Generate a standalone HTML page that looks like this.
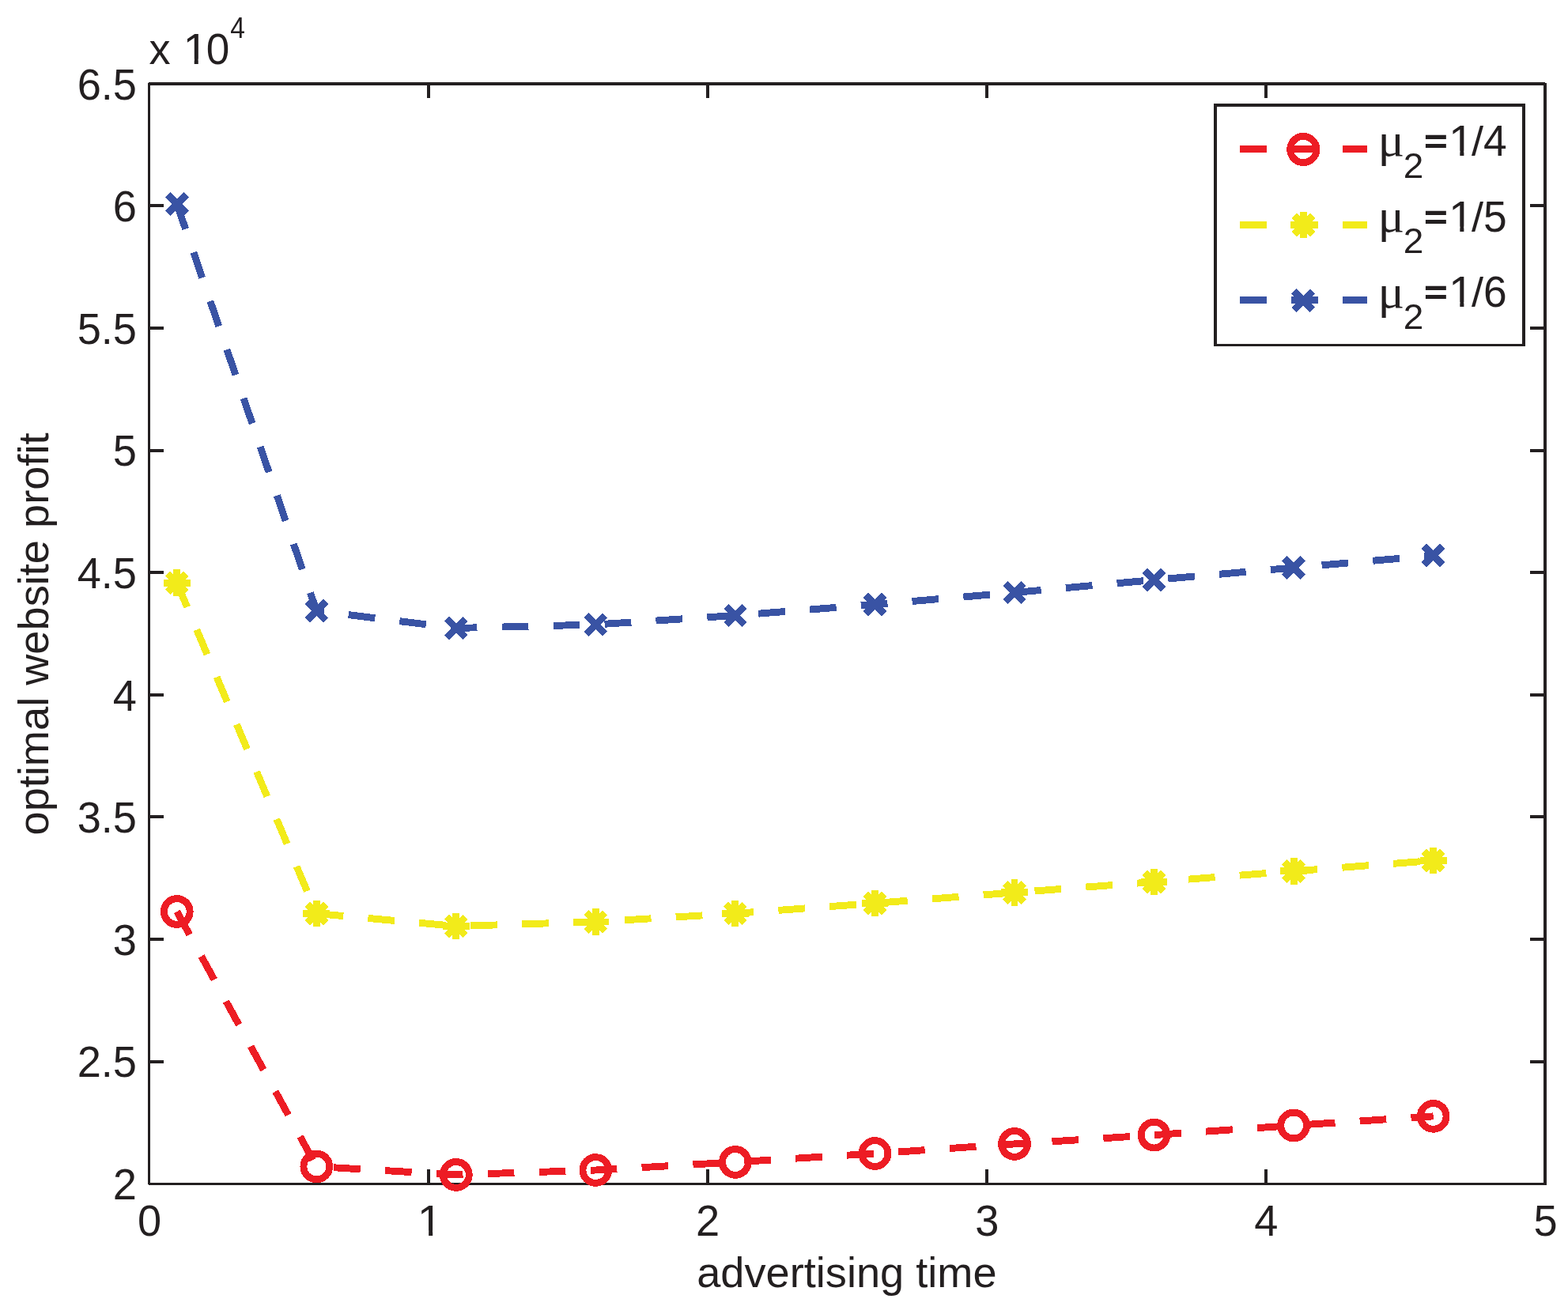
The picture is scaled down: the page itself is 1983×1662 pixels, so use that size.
<!DOCTYPE html>
<html lang="en"><head><meta charset="utf-8"><title>optimal website profit vs advertising time</title>
<style>
html,body{margin:0;padding:0;background:#fff;}
body{width:1983px;height:1662px;overflow:hidden;}
svg{display:block;}
text{font-family:"Liberation Sans",Arial,Helvetica,sans-serif;fill:#231F20;font-size:54.2px;}
text.gr{font-family:"Liberation Serif","Liberation Sans",serif;}
.ax{fill:#231F20;stroke:none;}
.cv{fill:#fff;stroke:none;}
.ln{fill:none;stroke-width:8.9;stroke-dasharray:33.75 31.25;}
.ll{fill:none;stroke-width:9.2;stroke-dasharray:34 31;}
.mk{fill:none;stroke-width:8.9;}
</style></head><body>
<svg xmlns="http://www.w3.org/2000/svg" width="1983" height="1662" viewBox="0 0 1983 1662">
<rect x="0" y="0" width="1983" height="1662" fill="#fff"/>

<path class="ax" shape-rendering="crispEdges" d="M187 104H1956V108H187ZM187 1496H1956V1499H187ZM187 104H190V1499H187ZM1952 104H1956V1499H1952ZM540 1479H544V1497H540ZM540 107H544V123.6H540ZM893 1479H897V1497H893ZM893 107H897V123.6H893ZM1246 1479H1250V1497H1246ZM1246 107H1250V123.6H1246ZM1599 1479H1603V1497H1599ZM1599 107H1603V123.6H1599ZM189 1341H207V1345H189ZM1935 1341H1953V1345H1935ZM189 1186H207V1190H189ZM1935 1186H1953V1190H1935ZM189 1031H207V1035H189ZM1935 1031H1953V1035H1935ZM189 877H207V881H189ZM1935 877H1953V881H1935ZM189 722H207V726H189ZM1935 722H1953V726H1935ZM189 568H207V572H189ZM1935 568H1953V572H1935ZM189 413H207V417H189ZM1935 413H1953V417H1935ZM189 258H207V262H189ZM1935 258H1953V262H1935Z"/>
<path class="cv" shape-rendering="crispEdges" d="M187 104H188V105H187ZM1954 104H1956V105H1954ZM187 1498H188V1499H187Z"/>
<polyline class="ln" shape-rendering="crispEdges" stroke="#ED1C24" stroke-dashoffset="0.6" points="223.76,1153.00 400.30,1475.50 576.85,1485.90 753.39,1480.00 929.94,1469.90 1106.48,1459.00 1283.03,1446.90 1459.57,1435.60 1636.12,1423.50 1812.66,1411.85"/>
<circle class="mk" shape-rendering="crispEdges" cx="223.76" cy="1153.00" r="16.4" stroke="#ED1C24"/>
<circle class="mk" shape-rendering="crispEdges" cx="400.30" cy="1475.50" r="16.4" stroke="#ED1C24"/>
<circle class="mk" shape-rendering="crispEdges" cx="576.85" cy="1485.90" r="16.4" stroke="#ED1C24"/>
<circle class="mk" shape-rendering="crispEdges" cx="753.39" cy="1480.00" r="16.4" stroke="#ED1C24"/>
<circle class="mk" shape-rendering="crispEdges" cx="929.94" cy="1469.90" r="16.4" stroke="#ED1C24"/>
<circle class="mk" shape-rendering="crispEdges" cx="1106.48" cy="1459.00" r="16.4" stroke="#ED1C24"/>
<circle class="mk" shape-rendering="crispEdges" cx="1283.03" cy="1446.90" r="16.4" stroke="#ED1C24"/>
<circle class="mk" shape-rendering="crispEdges" cx="1459.57" cy="1435.60" r="16.4" stroke="#ED1C24"/>
<circle class="mk" shape-rendering="crispEdges" cx="1636.12" cy="1423.50" r="16.4" stroke="#ED1C24"/>
<circle class="mk" shape-rendering="crispEdges" cx="1812.66" cy="1411.85" r="16.4" stroke="#ED1C24"/>
<polyline class="ln" shape-rendering="crispEdges" stroke="#F2EB1A" stroke-dashoffset="0.6" points="223.76,737.20 400.30,1155.50 576.85,1171.50 753.39,1166.00 929.94,1155.40 1106.48,1142.40 1283.03,1128.90 1459.57,1115.50 1636.12,1101.90 1812.66,1088.50"/>
<path class="mk" shape-rendering="crispEdges" stroke="#F2EB1A" d="M206.91 737.20H240.61M223.76 720.35V754.05M212.06 725.50L235.46 748.90M212.06 748.90L235.46 725.50"/>
<path class="mk" shape-rendering="crispEdges" stroke="#F2EB1A" d="M383.45 1155.50H417.15M400.30 1138.65V1172.35M388.60 1143.80L412.00 1167.20M388.60 1167.20L412.00 1143.80"/>
<path class="mk" shape-rendering="crispEdges" stroke="#F2EB1A" d="M560.00 1171.50H593.70M576.85 1154.65V1188.35M565.15 1159.80L588.55 1183.20M565.15 1183.20L588.55 1159.80"/>
<path class="mk" shape-rendering="crispEdges" stroke="#F2EB1A" d="M736.54 1166.00H770.24M753.39 1149.15V1182.85M741.69 1154.30L765.09 1177.70M741.69 1177.70L765.09 1154.30"/>
<path class="mk" shape-rendering="crispEdges" stroke="#F2EB1A" d="M913.09 1155.40H946.79M929.94 1138.55V1172.25M918.24 1143.70L941.64 1167.10M918.24 1167.10L941.64 1143.70"/>
<path class="mk" shape-rendering="crispEdges" stroke="#F2EB1A" d="M1089.63 1142.40H1123.33M1106.48 1125.55V1159.25M1094.78 1130.70L1118.18 1154.10M1094.78 1154.10L1118.18 1130.70"/>
<path class="mk" shape-rendering="crispEdges" stroke="#F2EB1A" d="M1266.18 1128.90H1299.88M1283.03 1112.05V1145.75M1271.33 1117.20L1294.73 1140.60M1271.33 1140.60L1294.73 1117.20"/>
<path class="mk" shape-rendering="crispEdges" stroke="#F2EB1A" d="M1442.72 1115.50H1476.42M1459.57 1098.65V1132.35M1447.87 1103.80L1471.27 1127.20M1447.87 1127.20L1471.27 1103.80"/>
<path class="mk" shape-rendering="crispEdges" stroke="#F2EB1A" d="M1619.27 1101.90H1652.97M1636.12 1085.05V1118.75M1624.42 1090.20L1647.82 1113.60M1624.42 1113.60L1647.82 1090.20"/>
<path class="mk" shape-rendering="crispEdges" stroke="#F2EB1A" d="M1795.81 1088.50H1829.51M1812.66 1071.65V1105.35M1800.96 1076.80L1824.36 1100.20M1800.96 1100.20L1824.36 1076.80"/>
<polyline class="ln" shape-rendering="crispEdges" stroke="#3953A4" stroke-dashoffset="0.2" points="223.76,258.00 400.30,772.60 576.85,794.50 753.39,790.00 929.94,778.50 1106.48,764.50 1283.03,749.50 1459.57,733.50 1636.12,718.00 1812.66,702.60"/>
<path class="mk" shape-rendering="crispEdges" stroke="#3953A4" d="M212.06 246.30L235.46 269.70M212.06 269.70L235.46 246.30"/>
<path class="mk" shape-rendering="crispEdges" stroke="#3953A4" d="M388.60 760.90L412.00 784.30M388.60 784.30L412.00 760.90"/>
<path class="mk" shape-rendering="crispEdges" stroke="#3953A4" d="M565.15 782.80L588.55 806.20M565.15 806.20L588.55 782.80"/>
<path class="mk" shape-rendering="crispEdges" stroke="#3953A4" d="M741.69 778.30L765.09 801.70M741.69 801.70L765.09 778.30"/>
<path class="mk" shape-rendering="crispEdges" stroke="#3953A4" d="M918.24 766.80L941.64 790.20M918.24 790.20L941.64 766.80"/>
<path class="mk" shape-rendering="crispEdges" stroke="#3953A4" d="M1094.78 752.80L1118.18 776.20M1094.78 776.20L1118.18 752.80"/>
<path class="mk" shape-rendering="crispEdges" stroke="#3953A4" d="M1271.33 737.80L1294.73 761.20M1271.33 761.20L1294.73 737.80"/>
<path class="mk" shape-rendering="crispEdges" stroke="#3953A4" d="M1447.87 721.80L1471.27 745.20M1447.87 745.20L1471.27 721.80"/>
<path class="mk" shape-rendering="crispEdges" stroke="#3953A4" d="M1624.42 706.30L1647.82 729.70M1624.42 729.70L1647.82 706.30"/>
<path class="mk" shape-rendering="crispEdges" stroke="#3953A4" d="M1800.96 690.90L1824.36 714.30M1800.96 714.30L1824.36 690.90"/>
<text transform="translate(189.00 1562.60) scale(1 1.04)" text-anchor="middle">0</text>
<text transform="translate(527.86 1562.60) scale(1.05 1.04)">1</text><path class="cv" d="M530.593 1556.19H542.168V1564.2H530.593ZM547.198 1556.19H558.329V1564.2H547.198Z"/>
<text transform="translate(895.18 1562.60) scale(1 1.04)" text-anchor="middle">2</text>
<text transform="translate(1248.27 1562.60) scale(1 1.04)" text-anchor="middle">3</text>
<text transform="translate(1601.36 1562.60) scale(1 1.04)" text-anchor="middle">4</text>
<text transform="translate(1954.45 1562.60) scale(1 1.04)" text-anchor="middle">5</text>
<text transform="translate(173.00 1517.00) scale(1 1.04)" text-anchor="end">2</text>
<text transform="translate(173.00 1362.39) scale(1 1.04)" text-anchor="end">2.5</text>
<text transform="translate(173.00 1207.78) scale(1 1.04)" text-anchor="end">3</text>
<text transform="translate(173.00 1053.17) scale(1 1.04)" text-anchor="end">3.5</text>
<text transform="translate(173.00 898.56) scale(1 1.04)" text-anchor="end">4</text>
<text transform="translate(173.00 743.94) scale(1 1.04)" text-anchor="end">4.5</text>
<text transform="translate(173.00 589.33) scale(1 1.04)" text-anchor="end">5</text>
<text transform="translate(173.00 434.72) scale(1 1.04)" text-anchor="end">5.5</text>
<text transform="translate(173.00 280.11) scale(1 1.04)" text-anchor="end">6</text>
<text transform="translate(173.00 125.50) scale(1 1.04)" text-anchor="end">6.5</text>
<text transform="translate(188.40 80.90) scale(1 1.04)">x</text>
<text transform="translate(231.40 80.90) scale(1.05 1.04)">1</text><path class="cv" d="M234.133 74.4889H245.709V82.5H234.133ZM250.738 74.4889H261.87V82.5H250.738Z"/>
<text transform="translate(260.80 80.90) scale(0.98 1.04)">0</text>
<text transform="translate(291.20 47.90) scale(0.925 1.04)" style="font-size:36.3px">4</text>
<text transform="translate(1070.90 1627.70) scale(1 1)" text-anchor="middle">advertising time</text>
<text transform="translate(61 802) rotate(-90)" text-anchor="middle">optimal website profit</text>
<rect x="1537" y="133" width="390" height="303.5" fill="#fff"/>
<path class="ax" shape-rendering="crispEdges" d="M1535.3 131.3H1928.8V135.1H1535.3ZM1535.3 435H1928.8V438H1535.3ZM1535.3 131.3H1538.9V438H1535.3ZM1925.2 131.3H1928.8V438H1925.2Z"/>
<path class="ll" shape-rendering="crispEdges" stroke="#ED1C24" d="M1568 188.60H1729.2"/>
<circle class="mk" shape-rendering="crispEdges" cx="1648.30" cy="189.00" r="16.6" stroke="#ED1C24"/>
<g>
<text class="gr" transform="translate(1742.45 197.35) scale(1.16 1.079)">μ</text>
<text transform="translate(1774.70 224.80) scale(1.06 1.04)" style="font-size:43.4px">2</text>
<text transform="translate(1801.61 194.11) scale(0.91 0.814)" stroke="#231F20" stroke-width="2.2">=</text>
<text transform="translate(1832.04 197.15) scale(1.05 1.04)">1</text><path class="cv" d="M1834.78 190.739H1846.35V198.75H1834.78ZM1851.38 190.739H1862.51V198.75H1851.38Z"/>
<text transform="translate(1860.95 197.15) scale(1 0.962)">/</text>
<text transform="translate(1875.90 197.15) scale(0.985 1.04)">4</text>
</g>
<path class="ll" shape-rendering="crispEdges" stroke="#F2EB1A" d="M1568 284.50H1729.2"/>
<path class="mk" shape-rendering="crispEdges" stroke="#F2EB1A" d="M1631.70 284.50H1664.90M1648.30 267.90V301.10M1636.60 272.80L1660.00 296.20M1636.60 296.20L1660.00 272.80"/>
<g>
<text class="gr" transform="translate(1742.45 293.00) scale(1.16 1.079)">μ</text>
<text transform="translate(1774.70 320.45) scale(1.06 1.04)" style="font-size:43.4px">2</text>
<text transform="translate(1801.61 289.76) scale(0.91 0.814)" stroke="#231F20" stroke-width="2.2">=</text>
<text transform="translate(1832.04 292.80) scale(1.05 1.04)">1</text><path class="cv" d="M1834.78 286.389H1846.35V294.4H1834.78ZM1851.38 286.389H1862.51V294.4H1851.38Z"/>
<text transform="translate(1860.95 292.80) scale(1 0.962)">/</text>
<text transform="translate(1875.90 292.80) scale(0.985 1.04)">5</text>
</g>
<path class="ll" shape-rendering="crispEdges" stroke="#3953A4" d="M1568 379.60H1729.2"/>
<path class="mk" shape-rendering="crispEdges" stroke="#3953A4" d="M1636.60 368.35L1660.00 391.75M1636.60 391.75L1660.00 368.35"/>
<g>
<text class="gr" transform="translate(1742.45 388.65) scale(1.16 1.079)">μ</text>
<text transform="translate(1774.70 416.10) scale(1.06 1.04)" style="font-size:43.4px">2</text>
<text transform="translate(1801.61 385.41) scale(0.91 0.814)" stroke="#231F20" stroke-width="2.2">=</text>
<text transform="translate(1832.04 388.45) scale(1.05 1.04)">1</text><path class="cv" d="M1834.78 382.039H1846.35V390.05H1834.78ZM1851.38 382.039H1862.51V390.05H1851.38Z"/>
<text transform="translate(1860.95 388.45) scale(1 0.962)">/</text>
<text transform="translate(1875.90 388.45) scale(0.985 1.04)">6</text>
</g>
</svg></body></html>
